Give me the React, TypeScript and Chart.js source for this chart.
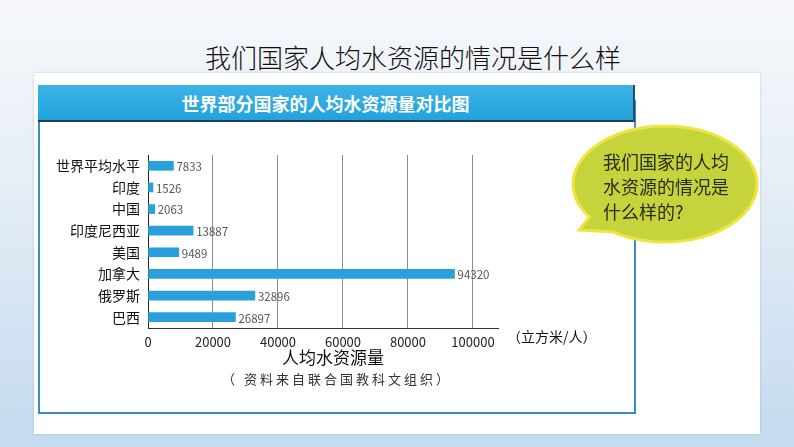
import React, { useEffect, useRef } from "react";
import { Chart, registerables } from "chart.js";

Chart.register(...registerables);

const categories = ["世界平均水平", "印度", "中国", "印度尼西亚", "美国", "加拿大", "俄罗斯", "巴西"];
const waterPerCapita = [7833, 1526, 2063, 13887, 9489, 94320, 32896, 26897];
const xTickValues = [0, 20000, 40000, 60000, 80000, 100000];
const xMax = 107700;
const pageTitle = "我们国家人均水资源的情况是什么样";
const chartTitle = "世界部分国家的人均水资源量对比图";
const xAxisTitle = "人均水资源量";
const unitLabel = "（立方米/人）";
const sourceNote = "（ 资料来自联合国教科文组织）";
const bubbleLines = ["我们国家的人均", "水资源的情况是", "什么样的?"];

const FONT = "'Noto Sans CJK SC', 'Noto Sans', 'DejaVu Sans', sans-serif";

const textPlugin = {
  id: "extraText",
  afterDatasetsDraw(chart: any) {
    const ctx = chart.ctx;
    const area = chart.chartArea;
    const meta = chart.getDatasetMeta(0);
    ctx.save();
    ctx.font = `11.5px ${FONT}`;
    ctx.fillStyle = "#555";
    ctx.textBaseline = "middle";
    ctx.textAlign = "left";
    meta.data.forEach((el: any, i: number) => {
      ctx.fillText(String(waterPerCapita[i]), el.x + 3, el.y + 1);
    });
    const cx = (area.left + area.right) / 2 + 10;
    ctx.fillStyle = "#111";
    ctx.font = `14px ${FONT}`;
    ctx.fillText(unitLabel, area.right + 9, area.bottom + 9);
    ctx.textAlign = "center";
    ctx.font = `17px ${FONT}`;
    ctx.fillText(xAxisTitle, cx, area.bottom + 30);
    ctx.font = `13px ${FONT}`;
    (ctx as any).letterSpacing = "3px";
    ctx.fillStyle = "#333";
    ctx.fillText(sourceNote, cx + 4, area.bottom + 51);
    ctx.restore();
  },
};

function BarChart() {
  const ref = useRef<HTMLCanvasElement>(null);
  useEffect(() => {
    if (!ref.current) return;
    const chart = new Chart(ref.current, {
      type: "bar",
      data: {
        labels: categories,
        datasets: [
          {
            data: waterPerCapita,
            backgroundColor: "#29a0dc",
            borderWidth: 0,
            barThickness: 9,
          },
        ],
      },
      options: {
        animation: false,
        responsive: false,
        indexAxis: "y",
        layout: { padding: { left: 0, top: 32, right: 136, bottom: 0 } },
        plugins: {
          legend: { display: false },
          tooltip: { enabled: false },
          title: { display: false },
        },
        scales: {
          x: {
            min: 0,
            max: xMax,
            afterBuildTicks: (s: any) => {
              s.ticks = xTickValues.map((v) => ({ value: v }));
            },
            afterFit: (s: any) => {
              s.height = 85;
            },
            grid: {
              color: (c: any) => (c.tick && c.tick.value === 0 ? "rgba(0,0,0,0)" : "#8c8c8c"),
              drawTicks: false,
              lineWidth: 1,
            },
            border: { color: "#333", width: 1 },
            ticks: {
              font: { family: FONT, size: 13 },
              color: "#222",
              padding: 6,
              maxRotation: 0,
              autoSkip: false,
              callback: (v: any) => String(v),
            },
          },
          y: {
            afterFit: (s: any) => {
              s.width = 108;
            },
            grid: { display: false, drawTicks: false },
            border: { color: "#222", width: 1 },
            ticks: { font: { family: FONT, size: 14 }, color: "#111", padding: 8 },
          },
        },
      } as any,
      plugins: [textPlugin],
    });
    return () => chart.destroy();
  }, []);
  return <canvas ref={ref} width={594} height={290} style={{ width: 594, height: 290, display: "block" }} />;
}

export default function App() {
  const cx = 665, cy = 184, rx = 92, ry = 58;
  const pt = (deg: number) => {
    const r = (deg * Math.PI) / 180;
    return [cx + rx * Math.cos(r), cy + ry * Math.sin(r)];
  };
  const [ax, ay] = pt(145);
  const [bx, by] = pt(124);
  const bubblePath = `M ${bx} ${by} L 579 230 L ${ax} ${ay} A ${rx} ${ry} 0 1 1 ${bx} ${by} Z`;
  return (
    <div
      style={{
        position: "absolute",
        left: 0,
        top: 0,
        width: 794,
        height: 447,
        overflow: "hidden",
        background: "linear-gradient(to bottom, #f6f8fb 0%, #e6eef6 40%, #c4daef 100%)",
        fontFamily: FONT,
      }}
    >
      <div
        style={{
          position: "absolute",
          left: 0,
          width: 826,
          top: 40,
          textAlign: "center",
          fontSize: 26,
          lineHeight: "34px",
          color: "#111",
          fontWeight: 300,
        }}
      >
        {pageTitle}
      </div>
      <div
        style={{
          position: "absolute",
          left: 34,
          top: 73,
          width: 726,
          height: 361,
          background: "#fff",
          boxShadow: "0 0 2px rgba(120,150,190,0.5)",
        }}
      />
      <div
        style={{
          position: "absolute",
          left: 38,
          top: 100,
          width: 594,
          height: 312,
          borderLeft: "2px solid #3a8dcc",
          borderRight: "2px solid #3a8dcc",
          borderBottom: "2px solid #3a8dcc",
        }}
      />
      <div
        style={{
          position: "absolute",
          left: 38,
          top: 85,
          width: 595,
          height: 35,
          background: "linear-gradient(to bottom, #3db2e6, #22a3dd)",
          borderBottom: "2px solid #1e3c58",
          boxShadow: "2px 0 0 #2a4a66",
          color: "#fff",
          fontWeight: 700,
          fontSize: 18,
          lineHeight: "37px",
          textAlign: "center",
          paddingRight: 0,
          boxSizing: "content-box",
        }}
      >
        <span style={{ position: "relative", left: -10 }}>{chartTitle}</span>
      </div>
      <div style={{ position: "absolute", left: 40, top: 123 }}>
        <BarChart />
      </div>
      <svg
        width={794}
        height={447}
        style={{ position: "absolute", left: 0, top: 0, pointerEvents: "none" }}
      >
        <path d={bubblePath} fill="#c6d43c" stroke="#efe542" strokeWidth={3} />
      </svg>
      <div
        style={{
          position: "absolute",
          left: 603,
          top: 149,
          fontSize: 18,
          lineHeight: "25px",
          color: "#2a2a18",
          whiteSpace: "nowrap",
        }}
      >
        {bubbleLines.map((l, i) => (
          <div key={i}>{l}</div>
        ))}
      </div>
    </div>
  );
}
